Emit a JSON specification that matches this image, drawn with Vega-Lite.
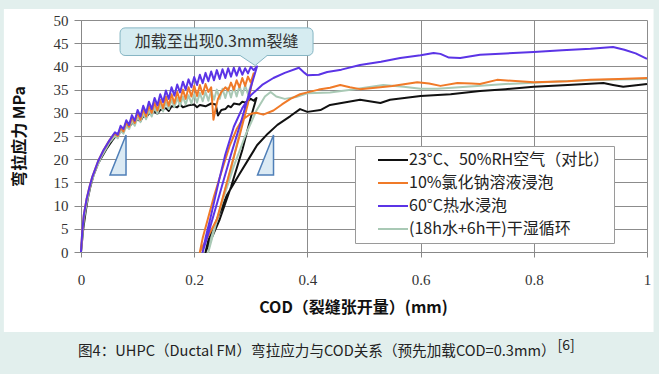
{
  "$schema": "https://vega.github.io/schema/vega-lite/v6.json",
  "width": 566,
  "height": 232,
  "autosize": {"type": "none"},
  "padding": {"left": 81, "top": 20, "right": 12, "bottom": 122},
  "background": "white",
  "config": {"view": {"stroke": null}, "font": "Noto Sans CJK SC"},
  "layer": [
    {
      "data": {"values": [{}]},
      "mark": {"type": "point", "shape": "M0.4,-1 L0.4,1 L-0.4,1 Z", "size": 1600, "filled": true, "fill": "#dbeaf4", "stroke": "#4f7fb8", "strokeWidth": 1.5, "opacity": 1},
      "encoding": {
        "x": {"datum": 0.0654, "type": "quantitative", "axis": {"values": [0, 0.2, 0.4, 0.6, 0.8, 1], "format": "~g", "title": "COD（裂缝张开量）(mm)", "grid": true, "domain": true, "ticks": true, "labelFlush": false, "labelFont": "Liberation Serif", "labelFontSize": 15, "labelColor": "#333", "labelPadding": 15, "tickSize": 5, "tickColor": "#888", "domainColor": "#888", "gridColor": "#8c8c8c", "titleFont": "Noto Sans CJK SC", "titleFontWeight": "bold", "titleFontSize": 16, "titleColor": "#111", "titlePadding": 12, "titleX": 272}},
        "y": {"datum": 20.9, "type": "quantitative", "axis": {"values": [0, 5, 10, 15, 20, 25, 30, 35, 40, 45, 50], "title": "弯拉应力 MPa", "grid": true, "domain": true, "ticks": true, "labelOverlap": false, "labelFont": "Liberation Serif", "labelFontSize": 15, "labelColor": "#333", "labelPadding": 6, "tickSize": 7, "tickColor": "#888", "domainColor": "#888", "gridColor": "#8c8c8c", "titleFont": "Noto Sans CJK SC", "titleFontWeight": "bold", "titleFontSize": 16, "titleColor": "#111", "titlePadding": 26}}
      }
    },
    {
      "data": {"values": [{}]},
      "mark": {"type": "point", "shape": "M0.4,-1 L0.4,1 L-0.4,1 Z", "size": 1600, "filled": true, "fill": "#dbeaf4", "stroke": "#4f7fb8", "strokeWidth": 1.5, "opacity": 1},
      "encoding": {
        "x": {"datum": 0.326, "type": "quantitative", "axis": {"values": [0, 0.2, 0.4, 0.6, 0.8, 1], "format": "~g", "title": "COD（裂缝张开量）(mm)", "grid": true, "domain": true, "ticks": true, "labelFlush": false, "labelFont": "Liberation Serif", "labelFontSize": 15, "labelColor": "#333", "labelPadding": 15, "tickSize": 5, "tickColor": "#888", "domainColor": "#888", "gridColor": "#8c8c8c", "titleFont": "Noto Sans CJK SC", "titleFontWeight": "bold", "titleFontSize": 16, "titleColor": "#111", "titlePadding": 12, "titleX": 272}},
        "y": {"datum": 20.9, "type": "quantitative", "axis": {"values": [0, 5, 10, 15, 20, 25, 30, 35, 40, 45, 50], "title": "弯拉应力 MPa", "grid": true, "domain": true, "ticks": true, "labelOverlap": false, "labelFont": "Liberation Serif", "labelFontSize": 15, "labelColor": "#333", "labelPadding": 6, "tickSize": 7, "tickColor": "#888", "domainColor": "#888", "gridColor": "#8c8c8c", "titleFont": "Noto Sans CJK SC", "titleFontWeight": "bold", "titleFontSize": 16, "titleColor": "#111", "titlePadding": 26}}
      }
    },
    {
      "data": {"values": [
        {"s":"a","i":1,"x":0,"y":0},{"s":"a","i":2,"x":0.004,"y":5},{"s":"a","i":3,"x":0.008,"y":8.5},{"s":"a","i":4,"x":0.012,"y":11.5},{"s":"a","i":5,"x":0.016,"y":13.8},{"s":"a","i":6,"x":0.022,"y":16.5},{"s":"a","i":7,"x":0.03,"y":19},{"s":"a","i":8,"x":0.036,"y":20.3},{"s":"a","i":9,"x":0.045,"y":22.2},{"s":"a","i":10,"x":0.055,"y":24},
        {"s":"a","i":11,"x":0.065,"y":25.5},{"s":"a","i":12,"x":0.072,"y":26},{"s":"a","i":13,"x":0.08,"y":27},{"s":"a","i":14,"x":0.087,"y":27.3},{"s":"a","i":15,"x":0.092,"y":28},{"s":"a","i":16,"x":0.1,"y":28.6},{"s":"a","i":17,"x":0.105,"y":28.2},{"s":"a","i":18,"x":0.11,"y":29.3},{"s":"a","i":19,"x":0.115,"y":29},{"s":"a","i":20,"x":0.12,"y":29.8},
        {"s":"a","i":21,"x":0.13,"y":30.3},{"s":"a","i":22,"x":0.135,"y":29.8},{"s":"a","i":23,"x":0.14,"y":30.6},{"s":"a","i":24,"x":0.15,"y":31},{"s":"a","i":25,"x":0.155,"y":30.4},{"s":"a","i":26,"x":0.16,"y":31.4},{"s":"a","i":27,"x":0.17,"y":31.2},{"s":"a","i":28,"x":0.175,"y":31.8},{"s":"a","i":29,"x":0.18,"y":31.2},{"s":"a","i":30,"x":0.19,"y":31.6},
        {"s":"a","i":31,"x":0.2,"y":31.8},{"s":"a","i":32,"x":0.205,"y":31.2},{"s":"a","i":33,"x":0.21,"y":31.7},{"s":"a","i":34,"x":0.22,"y":31.4},{"s":"a","i":35,"x":0.23,"y":32},{"s":"a","i":36,"x":0.238,"y":31.8},{"s":"a","i":37,"x":0.242,"y":29.4},{"s":"a","i":38,"x":0.248,"y":30.6},{"s":"a","i":39,"x":0.255,"y":30.8},{"s":"a","i":40,"x":0.26,"y":31.5},
        {"s":"a","i":41,"x":0.265,"y":31.2},{"s":"a","i":42,"x":0.27,"y":32},{"s":"a","i":43,"x":0.28,"y":31.8},{"s":"a","i":44,"x":0.285,"y":32.4},{"s":"a","i":45,"x":0.29,"y":32.2},{"s":"a","i":46,"x":0.3,"y":33},{"s":"a","i":47,"x":0.305,"y":32.6},{"s":"a","i":48,"x":0.31,"y":33.2},{"s":"a","i":49,"x":0.3,"y":29},{"s":"a","i":50,"x":0.285,"y":22},
        {"s":"a","i":51,"x":0.265,"y":14},{"s":"a","i":52,"x":0.245,"y":7},{"s":"a","i":53,"x":0.22,"y":0},{"s":"a","i":54,"x":0.225,"y":2.5},{"s":"a","i":55,"x":0.24,"y":7},{"s":"a","i":56,"x":0.258,"y":12.3},{"s":"a","i":57,"x":0.28,"y":16.8},{"s":"a","i":58,"x":0.295,"y":19.8},{"s":"a","i":59,"x":0.311,"y":23},{"s":"a","i":60,"x":0.33,"y":25.5},
        {"s":"a","i":61,"x":0.347,"y":27.4},{"s":"a","i":62,"x":0.37,"y":29.3},{"s":"a","i":63,"x":0.387,"y":30.8},{"s":"a","i":64,"x":0.4,"y":30.2},{"s":"a","i":65,"x":0.423,"y":30.6},{"s":"a","i":66,"x":0.44,"y":31.7},{"s":"a","i":67,"x":0.493,"y":32.8},{"s":"a","i":68,"x":0.529,"y":32.1},{"s":"a","i":69,"x":0.546,"y":32.8},{"s":"a","i":70,"x":0.6,"y":33.6},
        {"s":"a","i":71,"x":0.653,"y":34},{"s":"a","i":72,"x":0.705,"y":34.7},{"s":"a","i":73,"x":0.75,"y":35.1},{"s":"a","i":74,"x":0.8,"y":35.6},{"s":"a","i":75,"x":0.86,"y":36},{"s":"a","i":76,"x":0.923,"y":36.4},{"s":"a","i":77,"x":0.94,"y":36},{"s":"a","i":78,"x":0.958,"y":35.6},{"s":"a","i":79,"x":1.0,"y":36.2},

        {"s":"d","i":1,"x":0,"y":0},{"s":"d","i":2,"x":0.005,"y":7},{"s":"d","i":3,"x":0.01,"y":10.5},{"s":"d","i":4,"x":0.016,"y":14},{"s":"d","i":5,"x":0.025,"y":17.5},{"s":"d","i":6,"x":0.036,"y":20.5},{"s":"d","i":7,"x":0.05,"y":23.5},{"s":"d","i":8,"x":0.06,"y":25},{"s":"d","i":9,"x":0.065,"y":24.5},{"s":"d","i":10,"x":0.07,"y":26.2},
        {"s":"d","i":11,"x":0.075,"y":25.5},{"s":"d","i":12,"x":0.08,"y":27.2},{"s":"d","i":13,"x":0.085,"y":26.5},{"s":"d","i":14,"x":0.09,"y":28.2},{"s":"d","i":15,"x":0.095,"y":27.2},{"s":"d","i":16,"x":0.1,"y":29},{"s":"d","i":17,"x":0.105,"y":28},{"s":"d","i":18,"x":0.11,"y":29.8},{"s":"d","i":19,"x":0.115,"y":28.6},{"s":"d","i":20,"x":0.12,"y":30.5},
        {"s":"d","i":21,"x":0.125,"y":29.2},{"s":"d","i":22,"x":0.13,"y":31.2},{"s":"d","i":23,"x":0.135,"y":29.8},{"s":"d","i":24,"x":0.14,"y":31.8},{"s":"d","i":25,"x":0.145,"y":30.3},{"s":"d","i":26,"x":0.15,"y":32.3},{"s":"d","i":27,"x":0.155,"y":30.8},{"s":"d","i":28,"x":0.16,"y":32.8},{"s":"d","i":29,"x":0.165,"y":31.2},{"s":"d","i":30,"x":0.17,"y":33.2},
        {"s":"d","i":31,"x":0.175,"y":31.5},{"s":"d","i":32,"x":0.18,"y":33.5},{"s":"d","i":33,"x":0.185,"y":31.8},{"s":"d","i":34,"x":0.19,"y":33.8},{"s":"d","i":35,"x":0.195,"y":32},{"s":"d","i":36,"x":0.2,"y":34},{"s":"d","i":37,"x":0.205,"y":32.2},{"s":"d","i":38,"x":0.21,"y":34.3},{"s":"d","i":39,"x":0.215,"y":32.5},{"s":"d","i":40,"x":0.22,"y":34.5},
        {"s":"d","i":41,"x":0.225,"y":32.6},{"s":"d","i":42,"x":0.23,"y":34.8},{"s":"d","i":43,"x":0.235,"y":32.8},{"s":"d","i":44,"x":0.24,"y":35},{"s":"d","i":45,"x":0.245,"y":33},{"s":"d","i":46,"x":0.25,"y":35.2},{"s":"d","i":47,"x":0.255,"y":33.2},{"s":"d","i":48,"x":0.26,"y":35.4},{"s":"d","i":49,"x":0.265,"y":33.3},{"s":"d","i":50,"x":0.27,"y":35.6},
        {"s":"d","i":51,"x":0.275,"y":33.5},{"s":"d","i":52,"x":0.28,"y":35.8},{"s":"d","i":53,"x":0.285,"y":33.8},{"s":"d","i":54,"x":0.29,"y":35.9},{"s":"d","i":55,"x":0.295,"y":34},{"s":"d","i":56,"x":0.3,"y":36},{"s":"d","i":57,"x":0.285,"y":28},{"s":"d","i":58,"x":0.265,"y":18},{"s":"d","i":59,"x":0.245,"y":9},{"s":"d","i":60,"x":0.225,"y":0},
        {"s":"d","i":61,"x":0.23,"y":3},{"s":"d","i":62,"x":0.25,"y":11},{"s":"d","i":63,"x":0.27,"y":18.5},{"s":"d","i":64,"x":0.29,"y":25},{"s":"d","i":65,"x":0.31,"y":30.5},{"s":"d","i":66,"x":0.325,"y":33.5},{"s":"d","i":67,"x":0.335,"y":34.5},{"s":"d","i":68,"x":0.345,"y":33.5},{"s":"d","i":69,"x":0.36,"y":33},{"s":"d","i":70,"x":0.38,"y":33.4},
        {"s":"d","i":71,"x":0.4,"y":34.2},{"s":"d","i":72,"x":0.44,"y":34.4},{"s":"d","i":73,"x":0.48,"y":35},{"s":"d","i":74,"x":0.534,"y":36},{"s":"d","i":75,"x":0.57,"y":35.6},{"s":"d","i":76,"x":0.6,"y":35.2},{"s":"d","i":77,"x":0.63,"y":35.2},{"s":"d","i":78,"x":0.7,"y":35.8},{"s":"d","i":79,"x":0.75,"y":36.2},{"s":"d","i":80,"x":0.8,"y":36.5},
        {"s":"d","i":81,"x":0.85,"y":36.8},{"s":"d","i":82,"x":0.9,"y":37},{"s":"d","i":83,"x":0.95,"y":37.2},{"s":"d","i":84,"x":1.0,"y":37.3},

        {"s":"b","i":1,"x":0,"y":0},{"s":"b","i":2,"x":0.002,"y":4},{"s":"b","i":3,"x":0.005,"y":8},{"s":"b","i":4,"x":0.01,"y":11.5},{"s":"b","i":5,"x":0.015,"y":14},{"s":"b","i":6,"x":0.02,"y":16.2},{"s":"b","i":7,"x":0.03,"y":19.5},{"s":"b","i":8,"x":0.04,"y":22},{"s":"b","i":9,"x":0.05,"y":24},{"s":"b","i":10,"x":0.06,"y":25.6},
        {"s":"b","i":11,"x":0.065,"y":25},{"s":"b","i":12,"x":0.07,"y":26.8},{"s":"b","i":13,"x":0.075,"y":26},{"s":"b","i":14,"x":0.08,"y":28},{"s":"b","i":15,"x":0.085,"y":27},{"s":"b","i":16,"x":0.09,"y":29},{"s":"b","i":17,"x":0.095,"y":27.8},{"s":"b","i":18,"x":0.1,"y":30},{"s":"b","i":19,"x":0.105,"y":28.5},{"s":"b","i":20,"x":0.11,"y":30.8},
        {"s":"b","i":21,"x":0.115,"y":29.2},{"s":"b","i":22,"x":0.12,"y":31.5},{"s":"b","i":23,"x":0.125,"y":30},{"s":"b","i":24,"x":0.13,"y":32.2},{"s":"b","i":25,"x":0.135,"y":30.5},{"s":"b","i":26,"x":0.14,"y":32.8},{"s":"b","i":27,"x":0.145,"y":31},{"s":"b","i":28,"x":0.15,"y":33.5},{"s":"b","i":29,"x":0.155,"y":31.5},{"s":"b","i":30,"x":0.16,"y":34},
        {"s":"b","i":31,"x":0.165,"y":32},{"s":"b","i":32,"x":0.17,"y":34.5},{"s":"b","i":33,"x":0.175,"y":32.5},{"s":"b","i":34,"x":0.18,"y":35},{"s":"b","i":35,"x":0.185,"y":33},{"s":"b","i":36,"x":0.19,"y":35.5},{"s":"b","i":37,"x":0.195,"y":33.5},{"s":"b","i":38,"x":0.2,"y":35.8},{"s":"b","i":39,"x":0.205,"y":33.6},{"s":"b","i":40,"x":0.21,"y":36},
        {"s":"b","i":41,"x":0.215,"y":34},{"s":"b","i":42,"x":0.22,"y":36.2},{"s":"b","i":43,"x":0.225,"y":34.5},{"s":"b","i":44,"x":0.23,"y":35.5},{"s":"b","i":45,"x":0.234,"y":28.5},{"s":"b","i":46,"x":0.238,"y":31},{"s":"b","i":47,"x":0.242,"y":33},{"s":"b","i":48,"x":0.248,"y":34.5},{"s":"b","i":49,"x":0.255,"y":35.5},{"s":"b","i":50,"x":0.26,"y":34.8},
        {"s":"b","i":51,"x":0.265,"y":36.5},{"s":"b","i":52,"x":0.27,"y":35},{"s":"b","i":53,"x":0.275,"y":37},{"s":"b","i":54,"x":0.28,"y":35.5},{"s":"b","i":55,"x":0.285,"y":37.5},{"s":"b","i":56,"x":0.29,"y":35.8},{"s":"b","i":57,"x":0.295,"y":37.8},{"s":"b","i":58,"x":0.3,"y":36.5},{"s":"b","i":59,"x":0.305,"y":38.5},{"s":"b","i":60,"x":0.295,"y":32},
        {"s":"b","i":61,"x":0.28,"y":25},{"s":"b","i":62,"x":0.26,"y":16},{"s":"b","i":63,"x":0.24,"y":7},{"s":"b","i":64,"x":0.21,"y":0},{"s":"b","i":65,"x":0.215,"y":3},{"s":"b","i":66,"x":0.235,"y":12},{"s":"b","i":67,"x":0.25,"y":18},{"s":"b","i":68,"x":0.263,"y":23},{"s":"b","i":69,"x":0.275,"y":26.5},{"s":"b","i":70,"x":0.285,"y":28.5},
        {"s":"b","i":71,"x":0.3,"y":29.8},{"s":"b","i":72,"x":0.31,"y":30},{"s":"b","i":73,"x":0.322,"y":29.6},{"s":"b","i":74,"x":0.34,"y":30.5},{"s":"b","i":75,"x":0.355,"y":31.8},{"s":"b","i":76,"x":0.37,"y":33},{"s":"b","i":77,"x":0.387,"y":34},{"s":"b","i":78,"x":0.4,"y":34.4},{"s":"b","i":79,"x":0.42,"y":35},{"s":"b","i":80,"x":0.44,"y":35.4},
        {"s":"b","i":81,"x":0.458,"y":36},{"s":"b","i":82,"x":0.475,"y":35.5},{"s":"b","i":83,"x":0.493,"y":35.1},{"s":"b","i":84,"x":0.52,"y":35.4},{"s":"b","i":85,"x":0.55,"y":35.8},{"s":"b","i":86,"x":0.594,"y":36.6},{"s":"b","i":87,"x":0.615,"y":36.3},{"s":"b","i":88,"x":0.635,"y":35.8},{"s":"b","i":89,"x":0.665,"y":36.4},{"s":"b","i":90,"x":0.69,"y":36.3},
        {"s":"b","i":91,"x":0.705,"y":36.2},{"s":"b","i":92,"x":0.735,"y":37.1},{"s":"b","i":93,"x":0.8,"y":36.6},{"s":"b","i":94,"x":0.86,"y":36.8},{"s":"b","i":95,"x":0.9,"y":37.1},{"s":"b","i":96,"x":0.95,"y":37.3},{"s":"b","i":97,"x":1.0,"y":37.5},

        {"s":"c","i":1,"x":0,"y":0},{"s":"c","i":2,"x":0.002,"y":4},{"s":"c","i":3,"x":0.005,"y":8},{"s":"c","i":4,"x":0.01,"y":11.5},{"s":"c","i":5,"x":0.015,"y":14},{"s":"c","i":6,"x":0.02,"y":16.2},{"s":"c","i":7,"x":0.03,"y":19.5},{"s":"c","i":8,"x":0.04,"y":22},{"s":"c","i":9,"x":0.05,"y":24},{"s":"c","i":10,"x":0.06,"y":25.8},
        {"s":"c","i":11,"x":0.065,"y":25.3},{"s":"c","i":12,"x":0.07,"y":27.2},{"s":"c","i":13,"x":0.075,"y":26.5},{"s":"c","i":14,"x":0.08,"y":28.4},{"s":"c","i":15,"x":0.085,"y":27.4},{"s":"c","i":16,"x":0.09,"y":29.5},{"s":"c","i":17,"x":0.095,"y":28.3},{"s":"c","i":18,"x":0.1,"y":30.6},{"s":"c","i":19,"x":0.105,"y":29.2},{"s":"c","i":20,"x":0.11,"y":31.5},
        {"s":"c","i":21,"x":0.115,"y":30},{"s":"c","i":22,"x":0.12,"y":32.4},{"s":"c","i":23,"x":0.125,"y":30.8},{"s":"c","i":24,"x":0.13,"y":33.2},{"s":"c","i":25,"x":0.135,"y":31.6},{"s":"c","i":26,"x":0.14,"y":34},{"s":"c","i":27,"x":0.145,"y":32.3},{"s":"c","i":28,"x":0.15,"y":34.8},{"s":"c","i":29,"x":0.155,"y":33},{"s":"c","i":30,"x":0.16,"y":35.5},
        {"s":"c","i":31,"x":0.165,"y":33.7},{"s":"c","i":32,"x":0.17,"y":36.1},{"s":"c","i":33,"x":0.175,"y":34.4},{"s":"c","i":34,"x":0.18,"y":36.7},{"s":"c","i":35,"x":0.185,"y":35},{"s":"c","i":36,"x":0.19,"y":37.2},{"s":"c","i":37,"x":0.195,"y":35.5},{"s":"c","i":38,"x":0.2,"y":37.7},{"s":"c","i":39,"x":0.205,"y":36},{"s":"c","i":40,"x":0.21,"y":38.2},
        {"s":"c","i":41,"x":0.215,"y":36.4},{"s":"c","i":42,"x":0.22,"y":38.6},{"s":"c","i":43,"x":0.225,"y":36.8},{"s":"c","i":44,"x":0.23,"y":38.9},{"s":"c","i":45,"x":0.235,"y":37},{"s":"c","i":46,"x":0.24,"y":39.2},{"s":"c","i":47,"x":0.245,"y":37.3},{"s":"c","i":48,"x":0.25,"y":39.4},{"s":"c","i":49,"x":0.255,"y":37.5},{"s":"c","i":50,"x":0.26,"y":39.6},
        {"s":"c","i":51,"x":0.265,"y":37.8},{"s":"c","i":52,"x":0.27,"y":39.7},{"s":"c","i":53,"x":0.275,"y":38},{"s":"c","i":54,"x":0.28,"y":39.8},{"s":"c","i":55,"x":0.285,"y":38.2},{"s":"c","i":56,"x":0.29,"y":39.6},{"s":"c","i":57,"x":0.295,"y":38.5},{"s":"c","i":58,"x":0.3,"y":39.9},{"s":"c","i":59,"x":0.305,"y":39.2},{"s":"c","i":60,"x":0.311,"y":40},
        {"s":"c","i":61,"x":0.3,"y":35.5},{"s":"c","i":62,"x":0.285,"y":29},{"s":"c","i":63,"x":0.265,"y":21},{"s":"c","i":64,"x":0.245,"y":12.5},{"s":"c","i":65,"x":0.225,"y":4},{"s":"c","i":66,"x":0.215,"y":0},{"s":"c","i":67,"x":0.22,"y":3},{"s":"c","i":68,"x":0.23,"y":8},{"s":"c","i":69,"x":0.243,"y":15},{"s":"c","i":70,"x":0.255,"y":21},
        {"s":"c","i":71,"x":0.27,"y":27},{"s":"c","i":72,"x":0.285,"y":31},{"s":"c","i":73,"x":0.3,"y":33.8},{"s":"c","i":74,"x":0.32,"y":36},{"s":"c","i":75,"x":0.34,"y":37.5},{"s":"c","i":76,"x":0.36,"y":38.6},{"s":"c","i":77,"x":0.385,"y":39.7},{"s":"c","i":78,"x":0.395,"y":38.6},{"s":"c","i":79,"x":0.4,"y":38.1},{"s":"c","i":80,"x":0.42,"y":38.2},
        {"s":"c","i":81,"x":0.435,"y":38.8},{"s":"c","i":82,"x":0.46,"y":39.3},{"s":"c","i":83,"x":0.493,"y":40.3},{"s":"c","i":84,"x":0.53,"y":41},{"s":"c","i":85,"x":0.564,"y":41.8},{"s":"c","i":86,"x":0.6,"y":42.4},{"s":"c","i":87,"x":0.623,"y":42.9},{"s":"c","i":88,"x":0.635,"y":42.7},{"s":"c","i":89,"x":0.65,"y":41.9},{"s":"c","i":90,"x":0.67,"y":41.8},
        {"s":"c","i":91,"x":0.705,"y":42.5},{"s":"c","i":92,"x":0.75,"y":42.8},{"s":"c","i":93,"x":0.8,"y":43.1},{"s":"c","i":94,"x":0.85,"y":43.5},{"s":"c","i":95,"x":0.9,"y":43.8},{"s":"c","i":96,"x":0.94,"y":44.2},{"s":"c","i":97,"x":0.96,"y":43.6},{"s":"c","i":98,"x":0.98,"y":42.8},{"s":"c","i":99,"x":1.0,"y":41.6}
      ]},
      "mark": {"type": "line", "strokeJoin": "round"},
      "encoding": {
        "x": {"field": "x", "type": "quantitative", "scale": {"domain": [0, 1], "nice": false},
          "axis": {"values": [0, 0.2, 0.4, 0.6, 0.8, 1], "format": "~g", "title": "COD（裂缝张开量）(mm)", "grid": true, "domain": true, "ticks": true, "labelFlush": false, "labelFont": "Liberation Serif", "labelFontSize": 15, "labelColor": "#333", "labelPadding": 15, "tickSize": 5, "tickColor": "#888", "domainColor": "#888", "gridColor": "#8c8c8c", "titleFont": "Noto Sans CJK SC", "titleFontWeight": "bold", "titleFontSize": 16, "titleColor": "#111", "titlePadding": 12, "titleX": 272}},
        "y": {"field": "y", "type": "quantitative", "scale": {"domain": [0, 50], "nice": false},
          "axis": {"values": [0, 5, 10, 15, 20, 25, 30, 35, 40, 45, 50], "title": "弯拉应力 MPa", "grid": true, "domain": true, "ticks": true, "labelOverlap": false, "labelFont": "Liberation Serif", "labelFontSize": 15, "labelColor": "#333", "labelPadding": 6, "tickSize": 7, "tickColor": "#888", "domainColor": "#888", "gridColor": "#8c8c8c", "titleFont": "Noto Sans CJK SC", "titleFontWeight": "bold", "titleFontSize": 16, "titleColor": "#111", "titlePadding": 26}},
        "color": {"field": "s", "type": "nominal",
          "scale": {"domain": ["a", "b", "c", "d"], "range": ["#111111", "#f07a28", "#5b34e6", "#a9c9b5"]},
          "legend": {"orient": "none", "legendX": 274, "legendY": 126, "title": null,
            "labelExpr": "datum.value == 'a' ? '23°C、50%RH空气（对比）' : datum.value == 'b' ? '10%氯化钠溶液浸泡' : datum.value == 'c' ? '60°C热水浸泡' : '(18h水+6h干)干湿循环'",
            "symbolType": "stroke", "symbolSize": 900, "symbolStrokeWidth": 2.5, "symbolOffset": 18,
            "labelFont": "Noto Sans CJK SC", "labelFontSize": 16, "labelColor": "#222", "labelOffset": 0, "labelLimit": 400,
            "fillColor": "white", "strokeColor": "#9a9a9a", "padding": 4, "rowPadding": 3, "clipHeight": 20}},
        "strokeWidth": {"field": "s", "type": "nominal", "scale": {"domain": ["a", "b", "c", "d"], "range": [2, 2, 2, 1.2]}, "legend": null},
        "order": {"field": "i", "type": "quantitative"}
      }
    },
    {
      "data": {"values": [{}]},
      "mark": {"type": "rect", "cornerRadius": 5, "stroke": "#86b6c4", "strokeWidth": 1, "fill": "#d6ecf1"},
      "encoding": {
        "x": {"datum": 0.069, "type": "quantitative", "axis": {"values": [0, 0.2, 0.4, 0.6, 0.8, 1], "format": "~g", "title": "COD（裂缝张开量）(mm)", "grid": true, "domain": true, "ticks": true, "labelFlush": false, "labelFont": "Liberation Serif", "labelFontSize": 15, "labelColor": "#333", "labelPadding": 15, "tickSize": 5, "tickColor": "#888", "domainColor": "#888", "gridColor": "#8c8c8c", "titleFont": "Noto Sans CJK SC", "titleFontWeight": "bold", "titleFontSize": 16, "titleColor": "#111", "titlePadding": 12, "titleX": 272}},
        "x2": {"datum": 0.41},
        "y": {"datum": 48.3, "type": "quantitative", "axis": {"values": [0, 5, 10, 15, 20, 25, 30, 35, 40, 45, 50], "title": "弯拉应力 MPa", "grid": true, "domain": true, "ticks": true, "labelOverlap": false, "labelFont": "Liberation Serif", "labelFontSize": 15, "labelColor": "#333", "labelPadding": 6, "tickSize": 7, "tickColor": "#888", "domainColor": "#888", "gridColor": "#8c8c8c", "titleFont": "Noto Sans CJK SC", "titleFontWeight": "bold", "titleFontSize": 16, "titleColor": "#111", "titlePadding": 26}},
        "y2": {"datum": 42.35}
      }
    },
    {
      "data": {"values": [{}]},
      "mark": {"type": "point", "shape": "M-1,-0.52 L-1,-0.37 L0.11,0.37 L1,-0.37 L1,-0.52 Z", "size": 729, "filled": true, "fill": "#d6ecf1", "strokeWidth": 0, "opacity": 1},
      "encoding": {
        "x": {"datum": 0.305, "type": "quantitative", "axis": {"values": [0, 0.2, 0.4, 0.6, 0.8, 1], "format": "~g", "title": "COD（裂缝张开量）(mm)", "grid": true, "domain": true, "ticks": true, "labelFlush": false, "labelFont": "Liberation Serif", "labelFontSize": 15, "labelColor": "#333", "labelPadding": 15, "tickSize": 5, "tickColor": "#888", "domainColor": "#888", "gridColor": "#8c8c8c", "titleFont": "Noto Sans CJK SC", "titleFontWeight": "bold", "titleFontSize": 16, "titleColor": "#111", "titlePadding": 12, "titleX": 272}},
        "y": {"datum": 41.27, "type": "quantitative", "axis": {"values": [0, 5, 10, 15, 20, 25, 30, 35, 40, 45, 50], "title": "弯拉应力 MPa", "grid": true, "domain": true, "ticks": true, "labelOverlap": false, "labelFont": "Liberation Serif", "labelFontSize": 15, "labelColor": "#333", "labelPadding": 6, "tickSize": 7, "tickColor": "#888", "domainColor": "#888", "gridColor": "#8c8c8c", "titleFont": "Noto Sans CJK SC", "titleFontWeight": "bold", "titleFontSize": 16, "titleColor": "#111", "titlePadding": 26}}
      }
    },
    {
      "data": {"values": [{}]},
      "mark": {"type": "point", "shape": "M-1,-0.37 L0.11,0.37 L1,-0.37", "size": 729, "filled": false, "stroke": "#86b6c4", "strokeWidth": 1, "opacity": 1},
      "encoding": {
        "x": {"datum": 0.305, "type": "quantitative", "axis": {"values": [0, 0.2, 0.4, 0.6, 0.8, 1], "format": "~g", "title": "COD（裂缝张开量）(mm)", "grid": true, "domain": true, "ticks": true, "labelFlush": false, "labelFont": "Liberation Serif", "labelFontSize": 15, "labelColor": "#333", "labelPadding": 15, "tickSize": 5, "tickColor": "#888", "domainColor": "#888", "gridColor": "#8c8c8c", "titleFont": "Noto Sans CJK SC", "titleFontWeight": "bold", "titleFontSize": 16, "titleColor": "#111", "titlePadding": 12, "titleX": 272}},
        "y": {"datum": 41.27, "type": "quantitative", "axis": {"values": [0, 5, 10, 15, 20, 25, 30, 35, 40, 45, 50], "title": "弯拉应力 MPa", "grid": true, "domain": true, "ticks": true, "labelOverlap": false, "labelFont": "Liberation Serif", "labelFontSize": 15, "labelColor": "#333", "labelPadding": 6, "tickSize": 7, "tickColor": "#888", "domainColor": "#888", "gridColor": "#8c8c8c", "titleFont": "Noto Sans CJK SC", "titleFontWeight": "bold", "titleFontSize": 16, "titleColor": "#111", "titlePadding": 26}}
      }
    },
    {
      "data": {"values": [{}]},
      "mark": {"type": "text", "text": "加载至出现0.3mm裂缝", "font": "Noto Sans CJK SC", "fontSize": 16, "color": "#333", "align": "center", "baseline": "middle"},
      "encoding": {
        "x": {"datum": 0.2396, "type": "quantitative", "axis": {"values": [0, 0.2, 0.4, 0.6, 0.8, 1], "format": "~g", "title": "COD（裂缝张开量）(mm)", "grid": true, "domain": true, "ticks": true, "labelFlush": false, "labelFont": "Liberation Serif", "labelFontSize": 15, "labelColor": "#333", "labelPadding": 15, "tickSize": 5, "tickColor": "#888", "domainColor": "#888", "gridColor": "#8c8c8c", "titleFont": "Noto Sans CJK SC", "titleFontWeight": "bold", "titleFontSize": 16, "titleColor": "#111", "titlePadding": 12, "titleX": 272}},
        "y": {"datum": 45.3, "type": "quantitative", "axis": {"values": [0, 5, 10, 15, 20, 25, 30, 35, 40, 45, 50], "title": "弯拉应力 MPa", "grid": true, "domain": true, "ticks": true, "labelOverlap": false, "labelFont": "Liberation Serif", "labelFontSize": 15, "labelColor": "#333", "labelPadding": 6, "tickSize": 7, "tickColor": "#888", "domainColor": "#888", "gridColor": "#8c8c8c", "titleFont": "Noto Sans CJK SC", "titleFontWeight": "bold", "titleFontSize": 16, "titleColor": "#111", "titlePadding": 26}}
      }
    },
    {
      "data": {"values": [{}]},
      "mark": {"type": "rect", "filled": false, "stroke": "#e2efed", "strokeWidth": 100, "clip": false},
      "encoding": {
        "x": {"datum": -0.2246, "type": "quantitative", "axis": {"values": [0, 0.2, 0.4, 0.6, 0.8, 1], "format": "~g", "title": "COD（裂缝张开量）(mm)", "grid": true, "domain": true, "ticks": true, "labelFlush": false, "labelFont": "Liberation Serif", "labelFontSize": 15, "labelColor": "#333", "labelPadding": 15, "tickSize": 5, "tickColor": "#888", "domainColor": "#888", "gridColor": "#8c8c8c", "titleFont": "Noto Sans CJK SC", "titleFontWeight": "bold", "titleFontSize": 16, "titleColor": "#111", "titlePadding": 12, "titleX": 272}},
        "x2": {"datum": 1.0999},
        "y": {"datum": 63.15, "type": "quantitative", "axis": {"values": [0, 5, 10, 15, 20, 25, 30, 35, 40, 45, 50], "title": "弯拉应力 MPa", "grid": true, "domain": true, "ticks": true, "labelOverlap": false, "labelFont": "Liberation Serif", "labelFontSize": 15, "labelColor": "#333", "labelPadding": 6, "tickSize": 7, "tickColor": "#888", "domainColor": "#888", "gridColor": "#8c8c8c", "titleFont": "Noto Sans CJK SC", "titleFontWeight": "bold", "titleFontSize": 16, "titleColor": "#111", "titlePadding": 26}},
        "y2": {"datum": -28.02}
      }
    },
    {
      "data": {"values": [{}]},
      "mark": {"type": "text", "text": "图4：UHPC（Ductal FM）弯拉应力与COD关系（预先加载COD=0.3mm）", "font": "Noto Sans CJK SC", "fontSize": 14.6, "color": "#222", "align": "left", "baseline": "middle"},
      "encoding": {
        "x": {"datum": -0.0053, "type": "quantitative", "axis": {"values": [0, 0.2, 0.4, 0.6, 0.8, 1], "format": "~g", "title": "COD（裂缝张开量）(mm)", "grid": true, "domain": true, "ticks": true, "labelFlush": false, "labelFont": "Liberation Serif", "labelFontSize": 15, "labelColor": "#333", "labelPadding": 15, "tickSize": 5, "tickColor": "#888", "domainColor": "#888", "gridColor": "#8c8c8c", "titleFont": "Noto Sans CJK SC", "titleFontWeight": "bold", "titleFontSize": 16, "titleColor": "#111", "titlePadding": 12, "titleX": 272}},
        "y": {"datum": -21.55, "type": "quantitative", "axis": {"values": [0, 5, 10, 15, 20, 25, 30, 35, 40, 45, 50], "title": "弯拉应力 MPa", "grid": true, "domain": true, "ticks": true, "labelOverlap": false, "labelFont": "Liberation Serif", "labelFontSize": 15, "labelColor": "#333", "labelPadding": 6, "tickSize": 7, "tickColor": "#888", "domainColor": "#888", "gridColor": "#8c8c8c", "titleFont": "Noto Sans CJK SC", "titleFontWeight": "bold", "titleFontSize": 16, "titleColor": "#111", "titlePadding": 26}}
      }
    },
    {
      "data": {"values": [{}]},
      "mark": {"type": "text", "text": "[6]", "font": "Noto Sans CJK SC", "fontSize": 14, "color": "#222", "align": "left", "baseline": "middle"},
      "encoding": {
        "x": {"datum": 0.8417, "type": "quantitative", "axis": {"values": [0, 0.2, 0.4, 0.6, 0.8, 1], "format": "~g", "title": "COD（裂缝张开量）(mm)", "grid": true, "domain": true, "ticks": true, "labelFlush": false, "labelFont": "Liberation Serif", "labelFontSize": 15, "labelColor": "#333", "labelPadding": 15, "tickSize": 5, "tickColor": "#888", "domainColor": "#888", "gridColor": "#8c8c8c", "titleFont": "Noto Sans CJK SC", "titleFontWeight": "bold", "titleFontSize": 16, "titleColor": "#111", "titlePadding": 12, "titleX": 272}},
        "y": {"datum": -20.3, "type": "quantitative", "axis": {"values": [0, 5, 10, 15, 20, 25, 30, 35, 40, 45, 50], "title": "弯拉应力 MPa", "grid": true, "domain": true, "ticks": true, "labelOverlap": false, "labelFont": "Liberation Serif", "labelFontSize": 15, "labelColor": "#333", "labelPadding": 6, "tickSize": 7, "tickColor": "#888", "domainColor": "#888", "gridColor": "#8c8c8c", "titleFont": "Noto Sans CJK SC", "titleFontWeight": "bold", "titleFontSize": 16, "titleColor": "#111", "titlePadding": 26}}
      }
    }
  ]
}
